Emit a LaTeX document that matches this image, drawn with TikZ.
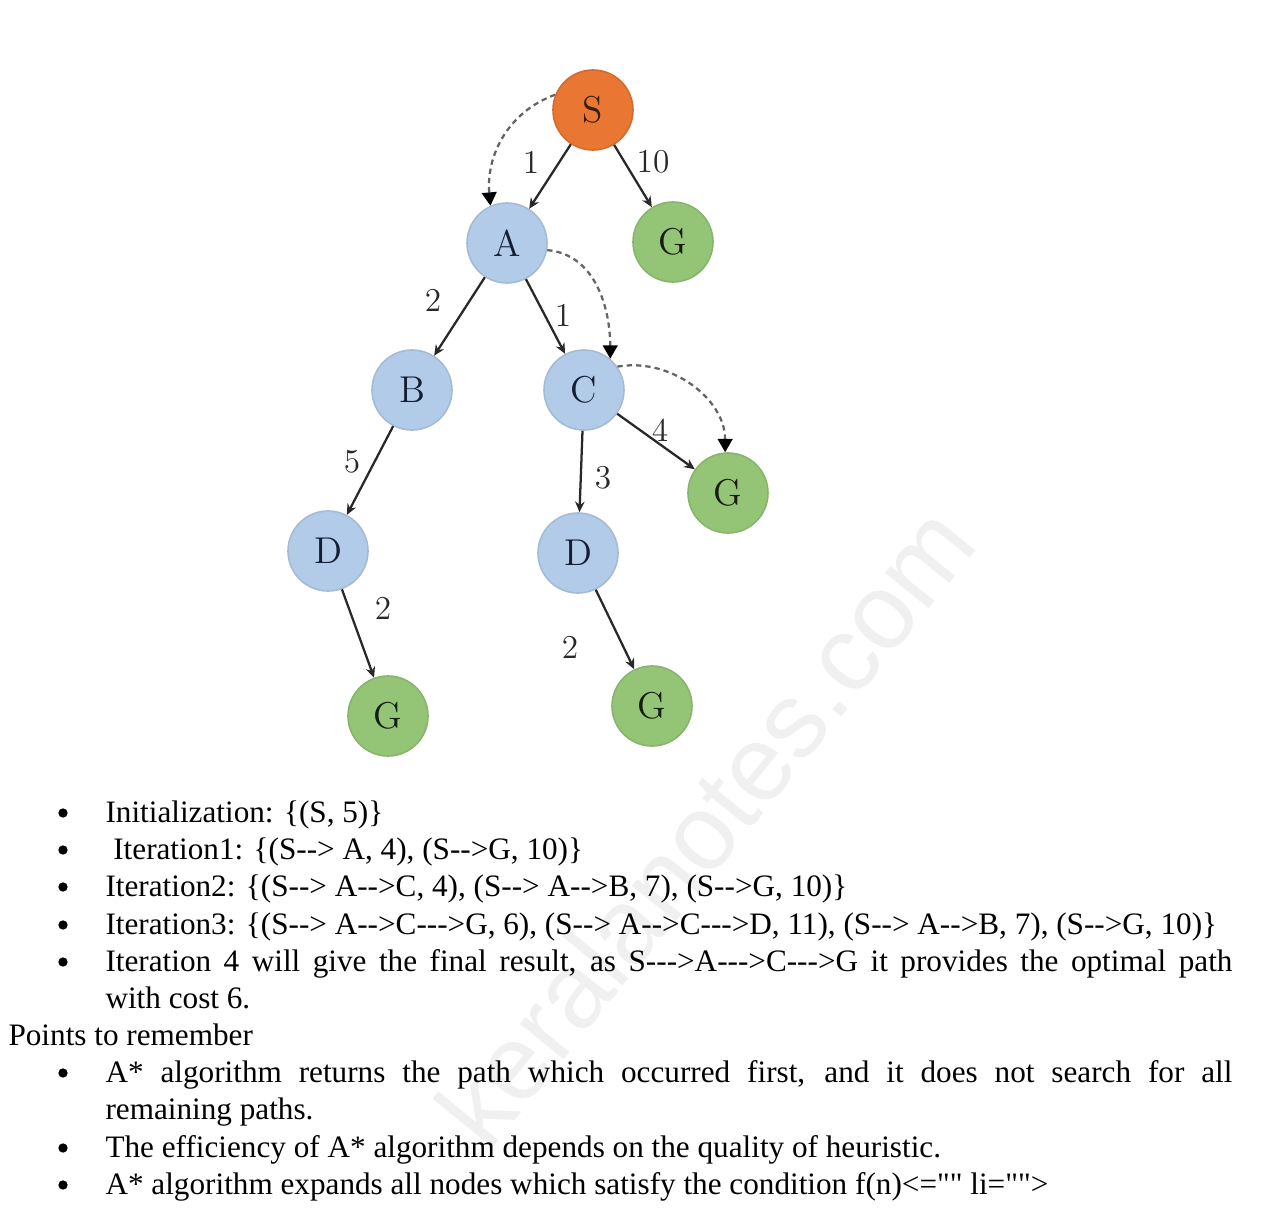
\documentclass[tikz,border=0pt]{standalone}
\definecolor{StartColor}{RGB}{234,118,52}
\definecolor{OpenColor}{RGB}{178,203,232}
\definecolor{GoalColor}{RGB}{148,196,118}
\definecolor{EdgeColor}{RGB}{40,40,40}
\definecolor{DashColor}{RGB}{100,100,100}
\definecolor{LetterColor}{RGB}{20,30,50}
\definecolor{MarkColor}{RGB}{240,240,240}
\usepackage{fontspec}
\newfontfamily\docfont{Liberation Serif}[Ligatures=TeXOff]
\newfontfamily\markfont{Liberation Sans}
\usepackage{tikz}
\usetikzlibrary{arrows.meta}
\tikzstyle{treenode} = [circle, minimum size=30pt, inner sep=0pt, line width=0.6pt, text=LetterColor, font=\fontsize{14}{15}\selectfont]
\tikzstyle{startnode} = [treenode, fill=StartColor, draw=StartColor!90!black, text=StartColor!25!black]
\tikzstyle{opennode} = [treenode, fill=OpenColor, draw=OpenColor!92!black]
\tikzstyle{goalnode} = [treenode, fill=GoalColor, draw=GoalColor!92!black, text=GoalColor!15!black]
\tikzstyle{edge} = [line width=0.85pt, EdgeColor, -{Stealth[length=4pt,width=3.6pt]}]
\tikzstyle{expand} = [line width=0.85pt, DashColor, dash pattern=on 2pt off 1.5pt, -{Triangle[length=5pt,width=5.5pt,color=black]}]
\tikzstyle{cost} = [inner sep=0pt, text=EdgeColor, font=\fontsize{12.5}{13}\selectfont]
\tikzstyle{line} = [anchor=base west, inner sep=0pt, font=\docfont\fontsize{11.7}{14}\selectfont]
\tikzstyle{dot} = [circle, fill=black, inner sep=0pt, minimum size=3.5pt]

\begin{document}
\begin{tikzpicture}[x=0.375pt, y=0.375pt]
            \useasboundingbox (0,0) rectangle (1267,-1217);
            % watermark behind everything
            \node[rotate=51, text=MarkColor, font=\markfont\fontsize{40}{40}\selectfont] (mark) at (705,-825) {keralanotes.com};

            % search tree
            \node[startnode] (start) at (593,-110) {S};
            \node[opennode] (a) at (507,-243) {A};
            \node[goalnode] (g1) at (673,-242) {G};
            \node[opennode] (b) at (412,-390) {B};
            \node[opennode] (c) at (584,-390) {C};
            \node[goalnode] (g2) at (728,-493) {G};
            \node[opennode] (d1) at (328,-551) {D};
            \node[opennode] (d2) at (578,-553) {D};
            \node[goalnode] (g3) at (388,-716) {G};
            \node[goalnode] (g4) at (652,-706) {G};

            \draw[edge] (start) -- (a);
            \draw[edge] (start) -- (g1);
            \draw[edge] (a) -- (b);
            \draw[edge] (a) -- (c);
            \draw[edge] (b) -- (d1);
            \draw[edge] (c) -- (d2);
            \draw[edge] (c) -- (g2);
            \draw[edge] (d1) -- (g3);
            \draw[edge] (d2) -- (g4);

            % edge costs
            \node[cost] (lsa) at (531,-162) {1};
            \node[cost] (lsg) at (653,-162) {10};
            \node[cost] (lab) at (433,-300) {2};
            \node[cost] (lac) at (563,-315) {1};
            \node[cost] (lbd) at (352,-462) {5};
            \node[cost] (lcd) at (603,-478) {3};
            \node[cost] (lcg) at (660,-430) {4};
            \node[cost] (ldga) at (383,-608) {2};
            \node[cost] (ldgb) at (570,-647) {2};

            % order of expansion
            \draw[expand] (start.158) to[out=200,in=95] (a.114);
            \draw[expand] (a.-10) to[out=-5,in=90] (c.50);
            \draw[expand] (c.35) to[out=10,in=90] (g2.94);

            % iterations
            \node[dot] (b1) at (63,-813) {};
            \node[line] (init) at (105,-822) {Initialization: \{(S, 5)\}};
            \node[dot] (b2) at (63,-850) {};
            \node[line] (iter1) at (105,-859) {\ Iteration1: \{(S--> A, 4), (S-->G, 10)\}};
            \node[dot] (b3) at (63,-887) {};
            \node[line] (iter2) at (105,-896) {Iteration2: \{(S--> A-->C, 4), (S--> A-->B, 7), (S-->G, 10)\}};
            \node[dot] (b4) at (63,-925) {};
            \node[line] (iter3) at (105,-934) {Iteration3: \{(S--> A-->C--->G, 6), (S--> A-->C--->D, 11), (S--> A-->B, 7), (S-->G, 10)\}};
            \node[dot] (b5) at (63,-962) {};
            \node[line] (iter4) at (105,-971) {\makebox[422.6pt][s]{Iteration 4 will give the final result, as S--->A--->C--->G it provides the optimal path}};
            \node[line] (iter4b) at (105,-1008) {with cost 6.};

            % points to remember
            \node[line] (points) at (8,-1045) {Points to remember};
            \node[dot] (b6) at (63,-1073) {};
            \node[line] (pta) at (105,-1082) {\makebox[422.6pt][s]{A* algorithm returns the path which occurred first, and it does not search for all}};
            \node[line] (ptab) at (105,-1119) {remaining paths.};
            \node[dot] (b7) at (63,-1148) {};
            \node[line] (ptb) at (105,-1157) {The efficiency of A* algorithm depends on the quality of heuristic.};
            \node[dot] (b8) at (63,-1185) {};
            \node[line] (ptc) at (105,-1194) {A* algorithm expands all nodes which satisfy the condition f(n)<="" li="">};
        \end{tikzpicture}
\end{document}
